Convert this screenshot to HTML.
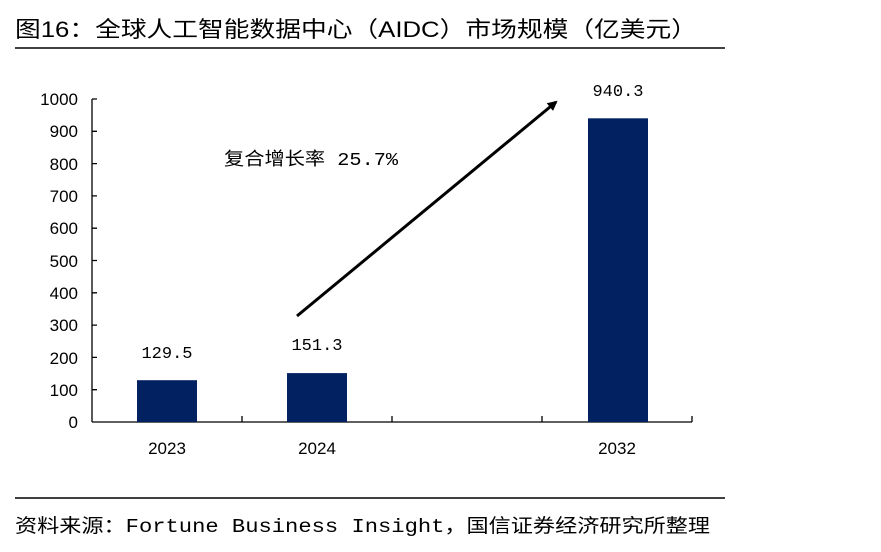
<!DOCTYPE html>
<html><head><meta charset="utf-8"><style>
body{margin:0;background:#fff;width:881px;height:552px;overflow:hidden}
svg{display:block}
</style></head><body>
<svg width="881" height="552" viewBox="0 0 881 552" xmlns="http://www.w3.org/2000/svg">
<defs><marker id="ah" markerWidth="10" markerHeight="10" refX="8" refY="5" orient="auto" markerUnits="userSpaceOnUse"><path d="M0,0 L10,5 L0,10 z" fill="#000"/></marker></defs>
<text x="15" y="37" font-family="'Liberation Sans','Noto Sans CJK SC',sans-serif" font-size="22" textLength="682" lengthAdjust="spacingAndGlyphs" fill="#000">图16：全球人工智能数据中心（AIDC）市场规模（亿美元）</text>
<line x1="15" y1="48" x2="725" y2="48" stroke="#000" stroke-width="1.5"/>
<g font-family="'Liberation Sans',sans-serif" font-size="17" fill="#000" text-anchor="end">
<text x="78" y="105">1000</text><text x="78" y="137">900</text><text x="78" y="170">800</text><text x="78" y="202">700</text><text x="78" y="234">600</text><text x="78" y="267">500</text><text x="78" y="299">400</text><text x="78" y="331">300</text><text x="78" y="364">200</text><text x="78" y="396">100</text><text x="78" y="428">0</text>
</g>
<g stroke="#000" stroke-width="1.3" fill="none">
<line x1="92" y1="99" x2="92" y2="422"/>
<line x1="92" y1="422" x2="692" y2="422"/>
<path d="M92 99h5M92 131.3h5M92 163.6h5M92 195.9h5M92 228.2h5M92 260.5h5M92 292.8h5M92 325.1h5M92 357.4h5M92 389.7h5"/>
<path d="M242 422v-6M392 422v-6M542 422v-6M692 422v-6"/>
</g>
<g fill="#022161">
<rect x="137" y="380.2" width="60" height="41.8"/>
<rect x="287" y="373.1" width="60" height="48.9"/>
<rect x="588" y="118.3" width="60" height="303.7"/>
</g>
<g font-family="'Liberation Mono',monospace" font-size="17" fill="#000" text-anchor="middle">
<text x="167" y="358">129.5</text><text x="317" y="350">151.3</text><text x="618" y="96">940.3</text>
</g>
<g font-family="'Liberation Sans',sans-serif" font-size="17" fill="#000" text-anchor="middle">
<text x="167" y="454">2023</text><text x="317" y="454">2024</text><text x="617" y="454">2032</text>
</g>
<text x="224" y="165" font-family="'Liberation Mono','Noto Sans CJK SC',monospace" font-size="18" textLength="174" lengthAdjust="spacingAndGlyphs" fill="#000">复合增长率 25.7%</text>
<line x1="297" y1="316" x2="556" y2="102" stroke="#000" stroke-width="3" marker-end="url(#ah)"/>
<line x1="15" y1="498" x2="725" y2="498" stroke="#000" stroke-width="1.5"/>
<text x="15" y="532" font-family="'Liberation Mono','Noto Sans CJK SC',monospace" font-size="19" textLength="695" lengthAdjust="spacingAndGlyphs" fill="#000">资料来源：Fortune Business Insight，国信证券经济研究所整理</text>
</svg>
</body></html>
